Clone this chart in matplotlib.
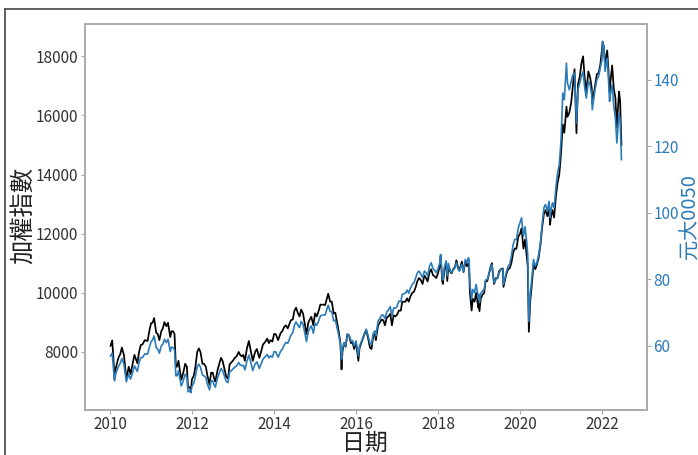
import matplotlib
matplotlib.use("Agg")
import matplotlib.pyplot as plt
import matplotlib.dates as mdates
from matplotlib.lines import Line2D
import pandas as pd

plt.rcParams['font.family'] = ['Noto Sans CJK TC', 'DejaVu Sans']

dates = [
 "2010-01-04","2010-01-19","2010-02-01","2010-02-08","2010-02-22","2010-03-15","2010-04-01","2010-04-15","2010-05-03","2010-05-25",
 "2010-06-15","2010-07-01","2010-07-20","2010-08-05","2010-08-31","2010-09-15","2010-10-01","2010-10-15","2010-11-05","2010-11-30",
 "2010-12-15","2010-12-31",
 "2011-01-14","2011-01-27","2011-02-15","2011-03-01","2011-03-15","2011-04-01","2011-04-15","2011-04-29","2011-05-16","2011-05-31",
 "2011-06-20","2011-07-01","2011-07-15","2011-07-28","2011-08-09","2011-08-19","2011-09-01","2011-09-26","2011-10-04","2011-10-20",
 "2011-10-31","2011-11-15","2011-11-25","2011-12-15","2011-12-20","2011-12-30",
 "2012-01-16","2012-01-31","2012-02-15","2012-03-01","2012-03-15","2012-04-02","2012-04-16","2012-05-02","2012-05-16","2012-06-04",
 "2012-06-18","2012-07-02","2012-07-16","2012-07-26","2012-08-15","2012-09-14","2012-09-28","2012-10-16","2012-10-31","2012-11-16",
 "2012-11-30","2012-12-17","2012-12-28",
 "2013-01-15","2013-01-31","2013-02-19","2013-03-04","2013-03-18","2013-04-01","2013-04-15","2013-05-02","2013-05-20","2013-06-03",
 "2013-06-24","2013-07-15","2013-07-31","2013-08-22","2013-09-02","2013-09-23","2013-10-15","2013-10-31","2013-11-15","2013-11-29",
 "2013-12-16","2013-12-31",
 "2014-01-15","2014-02-05","2014-02-27","2014-03-14","2014-03-31","2014-04-15","2014-05-02","2014-05-30","2014-06-16","2014-06-30",
 "2014-07-15","2014-07-31","2014-08-15","2014-08-29","2014-09-15","2014-09-30","2014-10-16","2014-10-31","2014-11-14","2014-11-28",
 "2014-12-16","2014-12-31",
 "2015-01-15","2015-01-30","2015-02-16","2015-03-02","2015-03-16","2015-03-31","2015-04-15","2015-04-27","2015-05-15","2015-05-29",
 "2015-06-15","2015-06-30","2015-07-15","2015-07-31","2015-08-14","2015-08-24","2015-09-01","2015-09-15","2015-09-30","2015-10-15",
 "2015-10-30","2015-11-16","2015-11-30","2015-12-15","2015-12-31",
 "2016-01-15","2016-01-21","2016-02-01","2016-02-25","2016-03-15","2016-03-31","2016-04-15","2016-05-03","2016-05-17","2016-06-01",
 "2016-06-17","2016-06-24","2016-07-15","2016-07-29","2016-08-15","2016-08-31","2016-09-14","2016-09-30","2016-10-14","2016-10-31",
 "2016-11-15","2016-11-30","2016-12-15","2016-12-30",
 "2017-01-16","2017-02-02","2017-02-15","2017-03-01","2017-03-15","2017-03-31","2017-04-14","2017-04-28","2017-05-15","2017-05-31",
 "2017-06-15","2017-06-30","2017-07-14","2017-07-31","2017-08-15","2017-08-31","2017-09-15","2017-09-29","2017-10-16","2017-10-31",
 "2017-11-15","2017-11-30","2017-12-15","2017-12-29",
 "2018-01-15","2018-01-23","2018-02-06","2018-02-12","2018-02-27","2018-03-13","2018-03-23","2018-04-02","2018-04-20","2018-04-30",
 "2018-05-15","2018-05-31","2018-06-12","2018-06-29","2018-07-09","2018-07-31","2018-08-15","2018-08-31","2018-09-14","2018-09-28",
 "2018-10-03","2018-10-11","2018-10-26","2018-11-05","2018-11-21","2018-12-05","2018-12-25","2018-12-28",
 "2019-01-04","2019-01-15","2019-01-31","2019-02-15","2019-02-27","2019-03-15","2019-03-29","2019-04-15","2019-04-24","2019-05-14",
 "2019-05-31","2019-06-14","2019-06-28","2019-07-15","2019-07-31","2019-08-06","2019-08-30","2019-09-16","2019-09-30","2019-10-15",
 "2019-10-31","2019-11-15","2019-11-29","2019-12-16","2019-12-31",
 "2020-01-14","2020-01-31","2020-02-14","2020-02-28","2020-03-09","2020-03-19","2020-03-31","2020-04-15","2020-04-30","2020-05-15",
 "2020-05-29","2020-06-15","2020-06-30","2020-07-15","2020-07-31","2020-08-14","2020-08-31","2020-09-15","2020-09-24","2020-09-30",
 "2020-10-15","2020-10-30","2020-11-16","2020-11-30","2020-12-15","2020-12-31",
 "2021-01-15","2021-01-29","2021-02-17","2021-02-26","2021-03-15","2021-03-31","2021-04-15","2021-04-30","2021-05-12","2021-05-17",
 "2021-05-31","2021-06-15","2021-06-30","2021-07-15","2021-07-30","2021-08-13","2021-08-31","2021-09-15","2021-09-30","2021-10-05",
 "2021-10-29","2021-11-15","2021-11-30","2021-12-15","2021-12-30",
 "2022-01-05","2022-01-17","2022-01-27","2022-02-15","2022-02-25","2022-03-08","2022-03-15","2022-03-31","2022-04-15","2022-04-29",
 "2022-05-12","2022-05-31","2022-06-10","2022-06-22",
]

taiex = [
 8207,8390,7640,7080,7490,7800,7930,8150,7900,7080,
 7500,7250,7600,7900,7620,8000,8240,8250,8400,8370,
 8700,8973,
 8990,9145,8650,8600,8400,8700,8800,9008,8870,8988,
 8500,8700,8700,8600,7500,7500,7700,7060,7150,7400,
 7600,7500,6800,6800,6630,7072,
 7200,7517,8000,8120,8000,7600,7600,7500,7200,6900,
 7300,7300,7100,7000,7400,7800,7700,7400,7160,7100,
 7580,7650,7700,
 7800,7850,8000,7900,7850,7900,7700,8100,8370,8100,
 7700,8000,8100,7800,7950,8250,8350,8450,8300,8400,
 8350,8611,
 8600,8400,8639,8700,8849,8900,8800,9075,9100,9393,
 9500,9315,9200,9436,9300,8966,8600,8974,9100,9187,
 8900,9307,
 9200,9361,9600,9600,9600,9586,9800,9970,9700,9701,
 9300,9323,9000,8665,8300,7410,8000,8300,8181,8600,
 8554,8300,8320,8100,8338,
 7900,7700,8145,8400,8600,8744,8500,8150,8100,8535,
 8600,8400,8900,8984,9100,9068,8900,9167,9200,9290,
 8900,9240,9200,9254,
 9400,9400,9700,9700,9700,9812,9700,9872,10000,10040,
 10200,10395,10500,10427,10300,10585,10500,10384,10700,10794,
 10600,10560,10500,10643,
 10900,11250,10400,10300,10815,11000,10400,10900,10700,10658,
 10800,10875,11100,10837,10750,11057,10700,11063,10900,10998,
 10900,10000,9400,9800,9700,10000,9500,9727,
 9380,9800,9932,10000,10389,10400,10641,10900,11000,10300,
 10498,10500,10731,10800,10824,10200,10618,10800,10830,11000,
 11359,11500,11489,11900,11997,
 12180,11495,11800,11292,10900,8681,9708,10300,10992,10800,
 10943,11200,11621,12200,12665,12800,12592,12900,12300,12516,
 12800,12546,13300,13723,14000,14733,
 15700,15410,16300,15953,16100,16431,17000,17567,16000,15400,
 17068,17300,17755,18000,17247,16800,17490,17300,16935,16400,
 16987,17400,17428,17700,18219,
 18500,18300,17700,18200,17600,16800,17100,17693,16900,16592,
 15600,16807,16500,15000,
]

etf0050 = [
 57.0,57.8,52.6,49.5,52.0,53.8,54.8,56.2,54.5,49.2,
 51.5,50.0,52.0,54.0,52.3,55.0,56.5,56.5,57.6,57.5,
 59.5,61.3,
 61.8,63.0,59.5,59.0,57.8,60.0,60.5,62.0,61.0,62.0,
 58.3,59.6,59.5,58.8,51.0,51.0,52.5,48.0,48.5,50.2,
 51.5,50.6,46.2,46.5,46.0,47.8,
 48.8,51.0,53.8,54.5,53.6,51.2,51.0,50.5,48.5,46.8,
 49.5,49.5,48.2,47.6,50.5,53.2,52.6,50.8,49.3,49.0,
 52.2,52.6,53.0,
 53.6,54.0,55.0,54.3,54.0,54.2,52.8,55.3,57.2,55.5,
 52.6,54.6,55.2,53.2,54.2,56.0,56.8,57.4,56.4,57.0,
 56.6,58.3,
 58.2,56.6,58.4,59.0,60.2,61.0,60.8,63.2,64.0,66.2,
 67.2,66.2,65.5,67.3,66.5,64.0,61.3,64.2,65.3,66.0,
 63.8,66.8,
 66.2,67.3,69.0,69.2,69.3,69.3,71.0,72.2,70.3,70.3,
 67.5,67.8,65.5,63.0,60.5,56.0,59.0,61.0,60.0,63.5,
 63.3,61.5,61.6,60.0,61.5,
 58.3,57.0,60.0,62.0,63.8,65.0,63.3,60.8,60.4,63.8,
 64.5,63.0,67.5,68.2,69.3,69.2,68.2,70.2,70.8,71.8,
 69.0,71.4,71.3,71.8,
 73.5,73.3,75.5,75.7,75.8,76.8,75.8,77.3,78.5,79.0,
 80.5,82.0,82.5,81.5,80.5,82.5,82.0,81.0,84.0,85.0,
 83.3,82.8,82.0,83.0,
 85.0,87.5,80.5,79.8,84.0,85.6,81.0,84.8,82.5,82.0,
 82.8,83.5,85.0,83.0,82.5,84.5,82.3,86.0,85.0,86.5,
 86.0,78.5,74.0,77.0,76.0,78.5,74.5,75.5,
 73.0,75.8,76.5,77.0,79.8,80.0,81.5,83.5,84.5,79.0,
 80.0,80.5,82.0,83.0,83.0,78.5,82.0,84.0,84.5,87.0,
 90.5,92.0,92.0,95.5,97.0,
 98.5,93.0,95.8,91.5,87.5,67.3,75.5,80.5,86.0,84.0,
 85.0,87.5,91.0,96.5,101.5,102.5,100.5,103.5,98.5,100.5,
 103.0,101.5,108.0,112.0,114.5,122.0,
 136.0,134.0,145.0,139.0,137.0,139.5,141.5,142.0,131.0,127.0,
 137.0,139.0,141.0,142.5,137.5,134.5,139.5,138.5,135.5,131.0,
 137.0,140.0,141.0,143.5,146.0,
 151.5,150.0,142.5,146.5,141.0,133.5,135.5,138.5,132.0,128.5,
 121.0,130.0,128.0,116.0,
]

x = pd.to_datetime(dates)
blue = '#2b7bb9'
spine_c = '#aaaaaa'

fig = plt.figure(figsize=(6.98, 4.55), dpi=100)
ax1 = fig.add_axes([85/698, 1-410/455, (647-85)/698, (410-24)/455])
ax2 = ax1.twinx()

ax1.plot(x, taiex, color='black', lw=1.25)
ax2.plot(x, etf0050, color=blue, lw=1.2)

ax1.set_yticks([8000, 10000, 12000, 14000, 16000, 18000])
ax2.set_yticks([60, 80, 100, 120, 140])
ax1.xaxis.set_major_locator(mdates.YearLocator(2))
ax1.xaxis.set_major_formatter(mdates.DateFormatter('%Y'))

for ax in (ax1, ax2):
    for s in ax.spines.values():
        s.set_color(spine_c)
        s.set_linewidth(1.2)
ax1.tick_params(axis='y', labelsize=11, colors='#333333', length=3, pad=2, color=spine_c)
ax1.tick_params(axis='x', labelsize=11, colors='#333333', length=3, pad=1, color=spine_c)
ax2.tick_params(axis='y', labelsize=11, colors=blue, length=3, pad=1.5, color=spine_c)

ax1.set_ylabel('加權指數', fontsize=17.5, color='#222222')
ax1.yaxis.set_label_coords(-0.087, 0.505)
ax1.set_xlabel('日期', fontsize=16.5, color='#222222')
ax1.xaxis.set_label_coords(0.498, -0.056)
ax2.set_ylabel('元大0050', fontsize=14.5, color=blue, labelpad=0.5)

# outer frame of the figure image
fig.add_artist(Line2D([5/698, 5/698], [0, 1-9/455], transform=fig.transFigure, color='#555555', lw=1.3))
fig.add_artist(Line2D([5/698, 1], [1-9/455, 1-9/455], transform=fig.transFigure, color='#555555', lw=1.3))

fig.savefig('out.png', dpi=100)
